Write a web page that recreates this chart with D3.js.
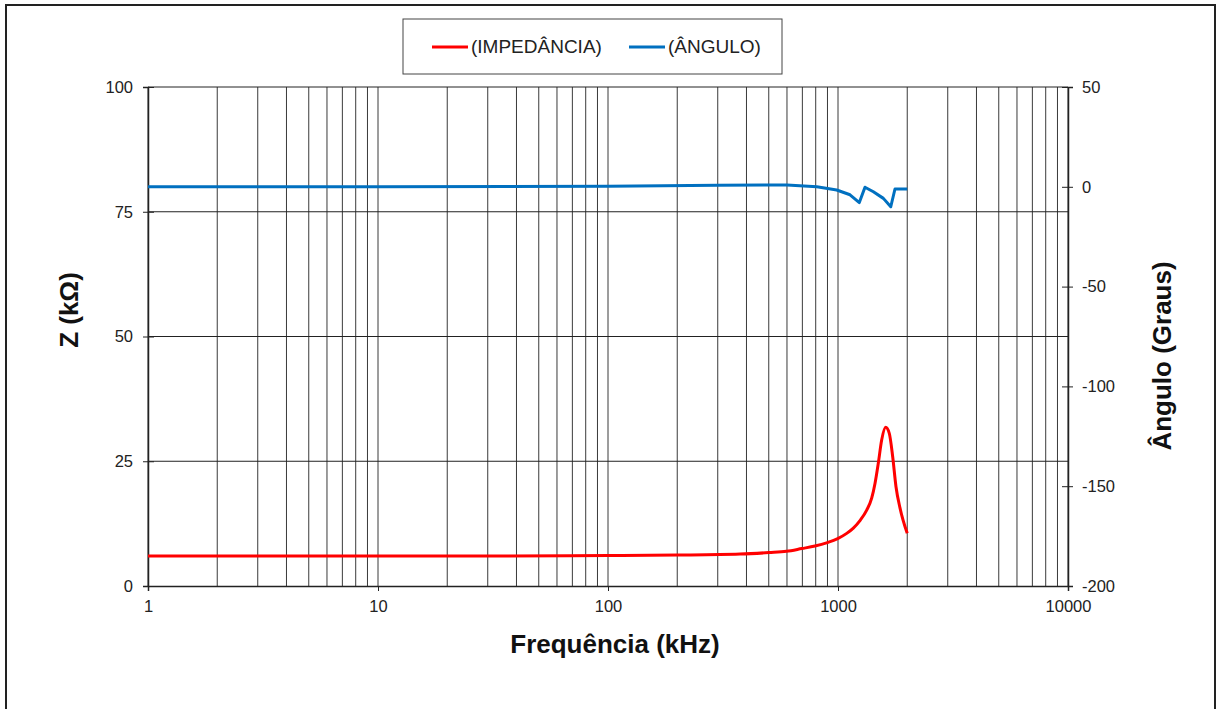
<!DOCTYPE html>
<html lang="pt">
<head>
  <meta charset="UTF-8">
  <title>Impedância e Ângulo</title>
  <script src="https://d3js.org/d3.v7.min.js"></script>
  <style>
    body { margin: 0; background: #fff; }
    text { font-family: "Liberation Sans", Arial, sans-serif; }
  </style>
</head>
<body>
  <div id="chart"></div>
  <script>
    // impedance curve (kHz, kOhm)
    const impFreq = [1, 3, 10, 30, 100, 200, 375, 501, 597, 696, 794, 899, 997, 1091, 1166, 1246, 1333, 1401, 1449, 1497, 1549, 1612, 1671, 1729, 1787, 1861, 2000];
    const impZ    = [6.0, 6.0, 6.0, 6.0, 6.1, 6.2, 6.4, 6.7, 6.95, 7.5, 8.0, 8.7, 9.5, 10.55, 11.6, 13.1, 15.2, 17.6, 20.6, 24.6, 29.3, 31.8, 30.6, 25.9, 19.9, 15.6, 10.55];

    // phase angle curve (kHz, degrees)
    const angFreq = [1, 10, 100, 300, 600, 809, 987, 1128, 1238, 1310, 1425, 1575, 1696, 1769, 2000];
    const angDeg  = [0, 0, 0.3, 0.8, 0.9, 0, -1.6, -4, -7.9, -0.2, -2.5, -5.8, -10, -1.1, -1.1];

    const xTicks = [1, 10, 100, 1000, 10000];
    const zTicks = [0, 25, 50, 75, 100];
    const angTicks = [-200, -150, -100, -50, 0, 50];

    const width = 1218, height = 709;
    const margin = { top: 87, right: 150, bottom: 123, left: 148 };

    const svg = d3.select("#chart").append("svg")
      .attr("width", width)
      .attr("height", height);

    // outer frame
    svg.append("rect")
      .attr("x", 6).attr("y", 5)
      .attr("width", 1209).attr("height", 720)
      .attr("fill", "none")
      .attr("stroke", "#222")
      .attr("stroke-width", 2);

    const x = d3.scaleLog()
      .domain([1, 10000])
      .range([margin.left, width - margin.right]);

    const yZ = d3.scaleLinear()
      .domain([0, 100])
      .range([height - margin.bottom, margin.top]);

    const yA = d3.scaleLinear()
      .domain([-200, 50])
      .range([height - margin.bottom, margin.top]);

    // vertical grid (every log tick)
    svg.append("g")
      .selectAll("line")
      .data(x.ticks())
      .join("line")
      .attr("x1", d => x(d)).attr("x2", d => x(d))
      .attr("y1", margin.top).attr("y2", height - margin.bottom)
      .attr("stroke", "#3a3a3a")
      .attr("stroke-width", 1);

    // horizontal grid
    svg.append("g")
      .selectAll("line")
      .data(zTicks.slice(1))
      .join("line")
      .attr("x1", margin.left).attr("x2", width - margin.right)
      .attr("y1", d => yZ(d)).attr("y2", d => yZ(d))
      .attr("stroke", "#222")
      .attr("stroke-width", 1);

    // axes
    const plain = d => String(d);

    const xAxis = svg.append("g")
      .attr("transform", `translate(0,${height - margin.bottom})`)
      .call(d3.axisBottom(x).tickValues(xTicks).tickFormat(plain).tickSize(5).tickPadding(9));

    const zAxis = svg.append("g")
      .attr("transform", `translate(${margin.left},0)`)
      .call(d3.axisLeft(yZ).tickValues(zTicks).tickFormat(plain).tickSize(5).tickPadding(10));

    const aAxis = svg.append("g")
      .attr("transform", `translate(${width - margin.right},0)`)
      .call(d3.axisRight(yA).tickValues(angTicks).tickFormat(plain).tickSize(5).tickPadding(9));

    // cross ticks on the value axes
    zAxis.selectAll(".tick").append("line").attr("x1", 0).attr("x2", 6);
    aAxis.selectAll(".tick").append("line").attr("x1", -6).attr("x2", 0);

    [xAxis, zAxis, aAxis].forEach(g => {
      g.select(".domain").attr("stroke", "#222").attr("stroke-width", 1.5);
      g.selectAll(".tick line").attr("stroke", "#222");
      g.selectAll(".tick text")
        .attr("font-size", "16.5px")
        .attr("fill", "#222")
        .style("font-family", "'Liberation Sans', Arial, sans-serif");
    });

    // series
    const impData = impFreq.map((f, i) => [f, impZ[i]]);
    const angData = angFreq.map((f, i) => [f, angDeg[i]]);

    svg.append("path")
      .datum(impData)
      .attr("fill", "none")
      .attr("stroke", "#ff0000")
      .attr("stroke-width", 3)
      .attr("d", d3.line()
        .x(d => x(d[0]))
        .y(d => yZ(d[1]))
        .curve(d3.curveMonotoneX));

    svg.append("path")
      .datum(angData)
      .attr("fill", "none")
      .attr("stroke", "#0070c0")
      .attr("stroke-width", 3)
      .attr("stroke-linejoin", "round")
      .attr("d", d3.line()
        .x(d => x(d[0]))
        .y(d => yA(d[1])));

    // axis titles
    svg.append("text")
      .attr("x", 615).attr("y", 653)
      .attr("text-anchor", "middle")
      .attr("font-size", "26px")
      .attr("font-weight", "bold")
      .attr("fill", "#111")
      .text("Frequência (kHz)");

    svg.append("text")
      .attr("transform", "translate(78,310) rotate(-90)")
      .attr("text-anchor", "middle")
      .attr("font-size", "26px")
      .attr("font-weight", "bold")
      .attr("fill", "#111")
      .text("Z (kΩ)");

    svg.append("text")
      .attr("transform", "translate(1171,356) rotate(-90)")
      .attr("text-anchor", "middle")
      .attr("font-size", "26px")
      .attr("font-weight", "bold")
      .attr("fill", "#111")
      .text("Ângulo (Graus)");

    // legend
    const legend = svg.append("g");
    legend.append("rect")
      .attr("x", 403).attr("y", 19)
      .attr("width", 379).attr("height", 55)
      .attr("fill", "#fff")
      .attr("stroke", "#444")
      .attr("stroke-width", 1);

    const legendItems = [
      { label: "(IMPEDÂNCIA)", color: "#ff0000", x: 432 },
      { label: "(ÂNGULO)", color: "#0070c0", x: 629 }
    ];
    legendItems.forEach(item => {
      legend.append("line")
        .attr("x1", item.x).attr("x2", item.x + 36)
        .attr("y1", 47).attr("y2", 47)
        .attr("stroke", item.color)
        .attr("stroke-width", 3);
      legend.append("text")
        .attr("x", item.x + 39).attr("y", 53)
        .attr("font-size", "19px")
        .attr("fill", "#222")
        .text(item.label);
    });
  </script>
</body>
</html>
